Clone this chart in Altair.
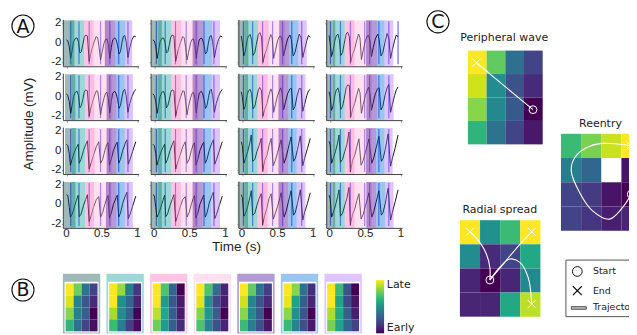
import altair as alt
import pandas as pd

FONT_A = "Liberation Sans"
FONT_C = "DejaVu Sans"

BAND_NAMES = ["gray", "teal", "pink", "lightpink", "purple", "blue", "lilac"]
BAND_COLORS = ["#0f4e4e", "#0a9d98", "#ff6cbb", "#ffb1d9", "#430293", "#026ed9", "#b16cff"]

# traces: rows 1-2 of columns 1-2
T_A12 = [0,.02,.04,.06,.08,.10,.125,.15,.17,.19,.21,.23,.25,.27,.295,.32,.34,.36,.39,.42,.44,.46,.48,.50,.53,.55,.57,.59,.61,.63,.65,.68,.70,.72,.74,.76,.78,.80,.82,.84,.865,.89,.92,.95,.975]
V_R1_A = [.3,.2,-.4,-1.6,-.8,.1,.45,.5,.05,-1.05,-.9,-.2,.55,.8,.7,-1.9,-1.2,-.6,.1,.65,.5,-.5,-1.75,-1.0,.0,.35,.4,-.2,-1.6,-.5,.3,.5,.3,-.3,-1.15,-.9,.0,.65,.75,.1,-1.5,-.5,.3,.7,.6]
V_R2_A = [.3,.1,-.5,-1.7,-.9,.0,.45,.55,.1,-1.15,-.9,-.3,.45,.7,.6,-2.0,-1.3,-.7,.0,.6,.55,-.5,-1.85,-1.0,-.1,.35,.45,-.2,-1.65,-.5,.35,.55,.3,-.3,-1.2,-.9,-.1,.6,.75,.1,-1.6,-.7,.0,.5,.75]
# traces: rows 3-4 of columns 1-2
T_A34 = [0,.02,.04,.056,.08,.11,.14,.165,.18,.205,.24,.27,.295,.32,.345,.38,.42,.455,.48,.51,.54,.565,.585,.605,.63,.66,.70,.715,.735,.76,.79,.835,.85,.87,.895,.93,.975]
V_R3_A = [.65,.5,-.3,-1.5,-.9,-.2,.3,.65,-1.3,-.9,.0,.6,1.0,-1.9,-1.3,-.5,.4,.9,-1.3,-.9,.0,.6,.8,-1.5,-.9,.0,.7,.85,-1.3,-.9,.0,.9,1.1,-1.4,-.9,-.1,.9]
V_R4_A = [1.0,.9,-.3,-1.3,-1.0,-.3,.4,.95,-1.25,-1.0,-.1,.5,1.0,-1.75,-1.2,-.3,.5,.8,-1.3,-.8,.0,.6,.9,-1.4,-.9,.0,.7,.95,-1.3,-.9,.1,1.0,1.25,-1.45,-1.0,-.2,.85]
# traces: rows 1-2 of columns 3-4
T_B12 = [0,.015,.035,.055,.08,.10,.125,.145,.165,.19,.21,.24,.26,.285,.305,.33,.36,.39,.415,.435,.455,.48,.51,.535,.555,.575,.595,.62,.65,.685,.705,.73,.755,.785,.815,.84,.865,.89,.92,.945,.97]
V_R1_C3 = [.7,.0,-1.35,-.9,.2,.7,.85,.3,-1.3,-1.0,-.2,.85,1.05,.6,-2.0,-1.2,-.6,.3,.85,.5,-1.6,-.8,.2,.65,.7,.2,-1.35,-.5,.4,.8,.3,-1.35,-1.0,.0,.9,.5,-1.5,-.7,.2,.75,.55]
V_R2_C3 = [.5,.0,-1.3,-1.0,.1,.6,.75,.3,-1.25,-1.0,-.3,.7,.95,.6,-2.0,-1.3,-.7,.2,.8,.4,-1.6,-.8,.1,.6,.9,.3,-1.35,-.6,.3,.8,.85,-1.35,-1.0,.1,.85,.8,-1.5,-.8,.1,.6,.75]
V_R1_C4 = [.75,.0,-1.4,-.9,.2,.7,.9,.3,-1.3,-1.0,-.2,.9,1.1,.6,-2.0,-1.2,-.6,.3,.9,.5,-1.7,-.8,.2,.7,.75,.2,-1.4,-.5,.4,.9,.3,-1.35,-1.0,.0,.95,.5,-1.6,-.7,.2,.8,.6]
V_R2_C4 = [.5,.0,-1.4,-1.0,.1,.65,.9,.3,-1.3,-1.0,-.3,.9,1.2,1.15,-2.1,-1.3,-.7,.2,.85,.4,-1.7,-.8,.1,.65,.95,.3,-1.4,-.6,.3,.85,.9,-1.35,-1.0,.1,.9,1.25,-1.6,-.8,.1,.7,1.0]
# traces: rows 3-4 of columns 3-4
T_B34 = [0,.015,.036,.06,.09,.12,.14,.16,.19,.22,.25,.28,.30,.33,.36,.39,.42,.45,.48,.51,.54,.56,.60,.63,.66,.70,.735,.76,.79,.83,.865,.89,.93,.97]
V_R3_C3 = [.9,.5,-1.3,-.8,-.1,.8,1.6,-1.1,-.9,-.1,.5,1.25,-2.15,-1.0,-.5,.5,1.25,-1.55,-1.0,-.2,.6,1.1,-1.3,-.7,.2,1.4,-1.1,-.8,.1,1.5,-1.55,-.8,.2,1.25]
V_R4_C3 = [1.0,.7,-1.2,-.9,-.2,.7,1.4,-1.1,-.9,-.1,.6,1.1,-2.1,-1.1,-.4,.6,1.1,-1.5,-.9,-.2,.6,1.2,-1.3,-.7,.2,1.4,-1.1,-.8,.1,1.5,-1.6,-.8,.1,1.2]
V_R3_C4 = [.95,.6,-1.3,-.8,-.1,.8,1.6,-1.2,-.9,-.1,.6,1.9,-2.2,-1.0,-.5,.4,1.2,-1.5,-1.0,-.2,.6,1.2,-1.3,-.7,.2,1.45,-1.1,-.8,.1,1.7,-1.6,-.8,.3,1.6]
V_R4_C4 = [.95,.6,-1.3,-.8,-.1,.8,1.5,-1.2,-.9,-.1,.6,1.75,-2.1,-1.0,-.5,.4,1.1,-1.5,-1.0,-.2,.6,1.2,-1.3,-.7,.2,1.4,-1.1,-.8,.1,1.65,-1.6,-.8,.3,1.5]

TRACES = [
    [(T_A12, V_R1_A), (T_A12, V_R1_A), (T_B12, V_R1_C3), (T_B12, V_R1_C4)],
    [(T_A12, V_R2_A), (T_A12, V_R2_A), (T_B12, V_R2_C3), (T_B12, V_R2_C4)],
    [(T_A34, V_R3_A), (T_A34, V_R3_A), (T_B34, V_R3_C3), (T_B34, V_R3_C4)],
    [(T_A34, V_R4_A), (T_A34, V_R4_A), (T_B34, V_R4_C3), (T_B34, V_R4_C4)],
]
TRACE_SHIFT = [0, -.018, -.01, -.01]

ACTIVATIONS = [
    [.06, .177, .32, .48, .61, .735, .865],
    [.03, .155, .30, .45, .59, .70, .84],
    [.02, .15, .29, .43, .57, .70, .84],
    [.01, .15, .29, .49, .56, .69, .83],
]
EXTRA_ACTIVATION = {(0, 3): .96}
# right ends of teal, pink, light pink, purple, blue and lilac windows
WINDOW_ENDS = [
    [[.247,.38,.54,.69,.83,.925], [.243,.38,.54,.692,.814,.925], [.224,.373,.523,.668,.794,.911], [.211,.346,.51,.664,.771,.893]],
    [[.26,.39,.565,.705,.82,.935], [.243,.375,.54,.692,.81,.925], [.219,.36,.513,.654,.77,.892], [.211,.346,.514,.664,.771,.897]],
    [[.266,.397,.565,.705,.822,.934], [.243,.375,.54,.684,.80,.925], [.219,.36,.513,.654,.77,.892], [.211,.346,.51,.65,.771,.884]],
    [[.262,.388,.556,.705,.822,.934], [.243,.375,.54,.684,.80,.925], [.219,.36,.513,.654,.77,.892], [.211,.346,.514,.655,.78,.897]],
]
WINDOW_STARTS = [[-.05,-.041,-.06,-.05], [-.02,-.041,-.06,-.05], [-.02,-.041,-.06,-.05], [-.034,-.041,-.06,-.05]]

TILES = [
    [[1,.78,.38,.2],[.95,.45,.27,.12],[.82,.43,.3,0],[.65,.37,.2,.03]],
    [[1,.85,.42,.15],[1,.5,.32,.1],[.87,.48,.3,0],[.68,.42,.18,.03]],
    [[1,.72,.33,0],[1,.55,.28,.07],[.9,.6,.3,.07],[.78,.55,.3,.13]],
    [[1,.72,.36,.1],[.96,.5,.22,.08],[.82,.53,.3,0],[.72,.45,.24,.1]],
    [[1,.76,.38,.18],[.93,.46,.27,.12],[.82,.47,.28,0],[.68,.42,.24,.06]],
    [[1,.82,.38,.13],[.97,.58,.3,.1],[.83,.5,.27,0],[.68,.44,.24,.06]],
    [[1,.68,.25,0],[1,.58,.22,.05],[.88,.6,.3,.08],[.8,.58,.33,.2]],
]
PERIPHERAL = [[1,.76,.37,.2],[.93,.48,.25,.12],[.82,.47,.28,0],[.65,.38,.2,.06]]
RADIAL = [[1,.5,.68,1],[.48,.12,.2,.6],[.1,0,.1,.47],[.1,.1,.6,.9]]
REENTRY = [[.68,.8,.92,1],[.42,.33,None,.05],[.2,.17,.05,0],[.2,.15,.08,.1]]

VIRIDIS = ["#440154","#482475","#414487","#355f8d","#2a788e","#21918c","#22a884","#44bf70","#7ad151","#bddf26","#fde725"]

PERIPHERAL_PATH = [[(3.48,2.52),(.46,.52)]]
RADIAL_PATHS = [
    [(1.49,2.48),(1.49,1.97),(1.32,1.41),(.99,.92),(.5,.48)],
    [(1.49,2.48),(2.15,1.82),(2.98,1.0),(3.57,.48)],
    [(1.49,2.48),(1.98,1.96),(2.48,1.61),(2.98,1.75),(3.39,2.37),(3.57,3.48)],
]
REENTRY_PATH = [[(3.49,2.49),(3.05,3.05),(2.41,3.52),(1.57,3.18),(.93,2.43),(.51,1.53),(.68,.99),(1.26,.58),(2.0,.395),(3.45,.49)]]

X_TICKS = [0, .5, 1]
Y_TICKS = [-2, 0, 2]
X_SHAPE = "M-1,-1L1,1M-1,1L1,-1"
BLANK = alt.InlineData(values=[{}])
P_W, P_H = 76, 47
TILE_STEP = 5.4625
B_H = 100


def note(text, px, py, size=11, font=FONT_C, angle=0, align="left", color="#222222"):
    return alt.Chart(BLANK).mark_text(text=text, fontSize=size, font=font, angle=angle, align=align,
                                      baseline="middle", color=color).encode(x=alt.value(px), y=alt.value(py))


def badge(letter, px, py):
    ring = alt.Chart(BLANK).mark_point(shape="circle", size=490, filled=False, color="#111111", strokeWidth=1.1,
                                       opacity=1).encode(x=alt.value(px), y=alt.value(py))
    return ring + note(letter, px, py + .5, size=19, align="center", color="#111111")


def filler(h=P_H):
    return alt.Chart(BLANK).mark_point(opacity=0).encode(x=alt.value(0), y=alt.value(0)).properties(width=P_W, height=h)


def panel(r, c):
    ts, vs = TRACES[r][c]
    shift = TRACE_SHIFT[c]
    trace = pd.DataFrame({"t": [t + shift for t in ts], "v": vs, "i": range(len(ts))})
    ends = WINDOW_ENDS[r][c]
    g0 = WINDOW_STARTS[r][c]
    starts_ = [g0, g0 + .095, ends[0], ends[1] - .05, ends[2], ends[3], ends[4]]
    stops_ = [ends[0] - .135, ends[0], ends[1], ends[2] + .08, ends[3], ends[4], ends[5]]
    bands = pd.DataFrame({"a": starts_, "b": stops_, "name": BAND_NAMES})
    act = list(ACTIVATIONS[c])
    if (r, c) in EXTRA_ACTIVATION:
        act.append(EXTRA_ACTIVATION[(r, c)])
    acts = pd.DataFrame({"t": act, "lo": -2.2, "hi": 2.2})

    x_scale = alt.Scale(domain=[-.05, 1.016], nice=False, zero=False)
    y_scale = alt.Scale(domain=[-2.4, 2.4], nice=False, zero=False)
    x_axis = alt.Axis(values=X_TICKS, labels=False, title=None, grid=False, tickSize=2, tickColor="#999999",
                      domainColor="#444444", domainWidth=1, zindex=1)
    y_axis = alt.Axis(values=Y_TICKS, labels=False, title=None, grid=False, tickSize=1.5, tickColor="#999999",
                      domainColor="#444444", domainWidth=1, zindex=1)

    rules = alt.Chart(acts).mark_rule(color="#6a6aff", strokeWidth=1.2).encode(
        x=alt.X("t:Q", scale=x_scale, axis=x_axis),
        y=alt.Y("lo:Q", scale=y_scale, axis=y_axis),
        y2="hi:Q",
    )
    line = alt.Chart(trace).mark_line(color="#000000", strokeWidth=.9).encode(
        x=alt.X("t:Q", scale=x_scale), y=alt.Y("v:Q", scale=y_scale), order="i:Q")
    rects = alt.Chart(bands).mark_rect(opacity=.4).encode(
        x=alt.X("a:Q", scale=x_scale),
        x2="b:Q",
        y=alt.value(1),
        y2=alt.value(P_H),
        color=alt.Color("name:N", scale=alt.Scale(domain=BAND_NAMES, range=BAND_COLORS), legend=None),
    )
    layers = [rules, line, rects]
    if r == 3:
        layers.append(alt.Chart(pd.DataFrame({"tick": X_TICKS, "txt": ["0", "0.5", "1"]})).mark_text(
            font=FONT_A, fontSize=11.5, color="#222222", align="center", baseline="middle").encode(
            x=alt.X("tick:Q", scale=x_scale), y=alt.value(P_H + 6.5), text="txt:N"))
    if c == 0:
        layers.append(alt.Chart(pd.DataFrame({"tick": Y_TICKS, "txt": ["-2", "0", "2"]})).mark_text(
            font=FONT_A, fontSize=11.5, color="#222222", align="right", baseline="middle").encode(
            y=alt.Y("tick:Q", scale=y_scale), x=alt.value(-1.5), text="txt:N"))
    if r == 0 and c == 0:
        layers += [
            note("Amplitude (mV)", -33.5, 105, size=13.5, font=FONT_A, angle=270, align="center"),
            note("Time (s)", 174, 228.5, size=13.5, font=FONT_A, align="center"),
            badge("A", -40, 6.7),
            badge("B", -40, 271.3),
            badge("C", 376, 2.5),
        ]
    return alt.layer(*layers).properties(width=P_W, height=P_H)


def cells(matrix, offset=0):
    rows = []
    for i, row in enumerate(matrix):
        for j, val in enumerate(row):
            if val is not None:
                rows.append({"c0": j + offset, "c1": j + 1 + offset, "r0": i, "r1": i + 1, "val": val})
    return pd.DataFrame(rows)


def heat_cells(df, x_scale, y_scale):
    return alt.Chart(df).mark_rect().encode(
        x=alt.X("c0:Q", scale=x_scale, axis=None),
        x2="c1:Q",
        y=alt.Y("r0:Q", scale=y_scale, axis=None),
        y2="r1:Q",
        color=alt.Color("val:Q", scale=alt.Scale(scheme="viridis", domain=[0, 1]), legend=None),
    )


def tile_row():
    x_scale = alt.Scale(domain=[-.34, -.34 + P_W / 8], nice=False, zero=False)
    y_scale = alt.Scale(domain=[-4.06 + B_H / 12, -4.06], nice=False, zero=False)
    backs = pd.DataFrame({
        "a": [i * TILE_STEP - .34 for i in range(7)], "b": [i * TILE_STEP + 4.34 for i in range(7)],
        "c": -.81, "d": 4.19, "name": BAND_NAMES})
    frames = pd.DataFrame({
        "a": [i * TILE_STEP - .13 for i in range(7)], "b": [i * TILE_STEP + 4.13 for i in range(7)],
        "c": -.15, "d": 4.1})
    back = alt.Chart(backs).mark_rect(opacity=.4).encode(
        x=alt.X("a:Q", scale=x_scale, axis=None), x2="b:Q",
        y=alt.Y("c:Q", scale=y_scale, axis=None), y2="d:Q",
        fill=alt.Fill("name:N", scale=alt.Scale(domain=BAND_NAMES, range=BAND_COLORS), legend=None))
    frame = alt.Chart(frames).mark_rect(color="white").encode(
        x=alt.X("a:Q", scale=x_scale, axis=None), x2="b:Q",
        y=alt.Y("c:Q", scale=y_scale, axis=None), y2="d:Q")
    df = pd.concat([cells(TILES[i], i * TILE_STEP) for i in range(7)])
    grad = alt.Gradient(gradient="linear", x1=0, x2=0, y1=1, y2=0,
                        stops=[alt.GradientStop(offset=k / 10, color=col) for k, col in enumerate(VIRIDIS)])
    bar = alt.Chart(BLANK).mark_rect(color=grad).encode(
        x=alt.value(314), x2=alt.value(322), y=alt.value(45.3), y2=alt.value(98.7))
    return alt.layer(back, frame, heat_cells(df, x_scale, y_scale), bar,
                     note("Late", 324.7, 50), note("Early", 324.7, 93)).properties(width=P_W, height=B_H)


def trajectory(paths, x_scale, y_scale):
    rows = []
    ends = []
    for p, path in enumerate(paths):
        for k, (cx, ry) in enumerate(path):
            rows.append({"p": p, "k": k, "cx": cx, "ry": ry})
        ends.append({"cx": path[-1][0], "ry": path[-1][1]})
    start = pd.DataFrame([{"cx": paths[0][0][0], "ry": paths[0][0][1]}])
    x = alt.X("cx:Q", scale=x_scale, axis=None)
    y = alt.Y("ry:Q", scale=y_scale, axis=None)
    lines = alt.Chart(pd.DataFrame(rows)).mark_line(color="white", strokeWidth=1.1, interpolate="catmull-rom").encode(
        x=x, y=y, detail="p:N", order="k:Q")
    o = alt.Chart(start).mark_point(shape="circle", filled=False, color="white", size=62, strokeWidth=1, opacity=1).encode(x=x, y=y)
    e = alt.Chart(pd.DataFrame(ends)).mark_point(shape=X_SHAPE, filled=False, color="white", size=65, strokeWidth=1, opacity=1).encode(x=x, y=y)
    return lines + o + e


def scenario(matrix, paths, title, title_cx, title_ry, cell_w, cell_h, off_x, off_y):
    x_scale = alt.Scale(domain=[-off_x / cell_w, (P_W - off_x) / cell_w], nice=False, zero=False)
    y_scale = alt.Scale(domain=[(P_H - off_y) / cell_h, -off_y / cell_h], nice=False, zero=False)
    label = alt.Chart(pd.DataFrame({"cx": [title_cx], "ry": [title_ry], "txt": [title]})).mark_text(
        fontSize=11, font=FONT_C, color="#222222", align="center", baseline="middle").encode(
        x=alt.X("cx:Q", scale=x_scale, axis=None), y=alt.Y("ry:Q", scale=y_scale, axis=None), text="txt:N")
    return alt.layer(heat_cells(cells(matrix), x_scale, y_scale), trajectory(paths, x_scale, y_scale), label).properties(width=P_W, height=P_H)


def key():
    ox, oy = 64.3, 25.3
    box = alt.Chart(BLANK).mark_rect(fill="white", stroke="#555555", strokeWidth=1).encode(
        x=alt.value(ox), x2=alt.value(ox + 105), y=alt.value(oy), y2=alt.value(oy + 56.7))
    circ = alt.Chart(BLANK).mark_point(shape="circle", filled=False, color="#111111", size=95, strokeWidth=1, opacity=1).encode(
        x=alt.value(ox + 11.4), y=alt.value(oy + 11.4))
    cross = alt.Chart(BLANK).mark_point(shape=X_SHAPE, filled=False, color="#111111", size=80, strokeWidth=1.2, opacity=1).encode(
        x=alt.value(ox + 11.4), y=alt.value(oy + 30.7))
    patch = alt.Chart(BLANK).mark_rect(fill="#bbbbbb", stroke="#555555", strokeWidth=1).encode(
        x=alt.value(ox + 5.4), x2=alt.value(ox + 20.4), y=alt.value(oy + 46.7), y2=alt.value(oy + 49.3))
    return alt.layer(box, circ, cross, patch,
                     note("Start", ox + 27, oy + 11.4, size=9.5),
                     note("End", ox + 27, oy + 30.7, size=9.5),
                     note("Trajectory", ox + 27, oy + 47.5, size=9.5)).properties(width=P_W, height=B_H)


peripheral = scenario(PERIPHERAL, PERIPHERAL_PATH, "Peripheral wave", 1.94, -.54, 18.75, 23.5, 54, 31.3)
reentry = scenario(REENTRY, REENTRY_PATH, "Reentry", 1.96, -.39, 20.2, 24.3, 59.3, 114.7)
radial = scenario(RADIAL, RADIAL_PATHS, "Radial spread", 1.98, -.41, 20.175, 24.18, 46, 39.3)

extra = {(0, 4): peripheral, (0, 5): reentry, (3, 4): radial}
views = []
for r in range(4):
    for c in range(6):
        views.append(panel(r, c) if c < 4 else extra.get((r, c), filler()))
views += [tile_row(), filler(), filler(), filler(), filler(), key()]

chart = alt.concat(*views, columns=6, spacing={"row": 7, "column": 12}, bounds="flush", align="each").properties(
    padding={"left": 1, "top": 0, "right": -42.5, "bottom": 0}, background="white"
).configure_view(stroke=None)

chart.save("out.html", embed_options={"renderer": "svg", "actions": False})
